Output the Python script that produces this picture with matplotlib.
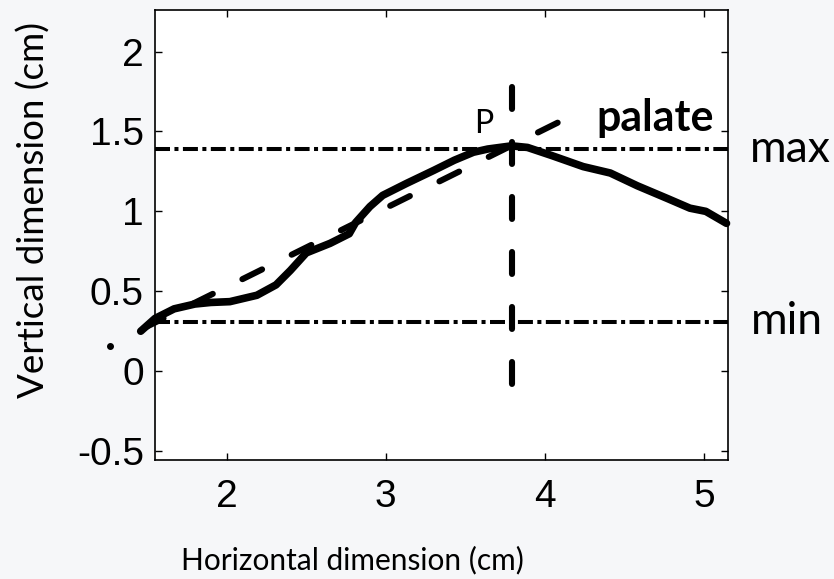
import matplotlib
matplotlib.use("Agg")
import matplotlib.pyplot as plt

plt.rcParams["lines.scale_dashes"] = False

# ---- data ----
curve_x = [1.46, 1.55, 1.67, 1.80, 1.90, 2.02, 2.19, 2.31, 2.40, 2.50, 2.65, 2.77,
           2.81, 2.90, 2.98, 3.13, 3.30, 3.43, 3.55, 3.64, 3.79, 3.89, 4.04, 4.24,
           4.41, 4.58, 4.77, 4.91, 5.01, 5.14]
curve_y = [0.25, 0.33, 0.39, 0.42, 0.43, 0.435, 0.475, 0.54, 0.63, 0.74, 0.80, 0.86,
           0.93, 1.03, 1.10, 1.175, 1.256, 1.32, 1.37, 1.39, 1.41, 1.40, 1.35, 1.28,
           1.24, 1.16, 1.08, 1.02, 1.00, 0.925]
fit_x = [1.44, 4.13]
fit_y = [0.25, 1.58]
p_x = 3.79
p_span = [1.78, -0.08]
y_min = 0.31
y_max = 1.39
dot_x = [1.27]
dot_y = [0.16]
x_ticks = [2, 3, 4, 5]
y_ticks = [-0.5, 0, 0.5, 1, 1.5, 2]
y_tick_labels = ["-0.5", "0", "0.5", "1", "1.5", "2"]

bg = "#f6f7f9"
fig = plt.figure(figsize=(8.34, 5.79), dpi=100, facecolor=bg)
ax = fig.add_axes([0.1859, 0.2055, 0.873 - 0.1859, 0.9827 - 0.2055])
ax.set_facecolor("white")
ax.set_xlim(1.55, 5.15)
ax.set_ylim(-0.556, 2.26)

dashdot = (0, (10.8, 3.2, 2.9, 3.2))
ax.plot([1.55, 5.15], [y_max, y_max], color="black", lw=2.9, linestyle=dashdot,
        dash_capstyle="butt", zorder=2)
ax.plot([1.55, 5.15], [y_min, y_min], color="black", lw=2.9, linestyle=dashdot,
        dash_capstyle="butt", zorder=2)

ax.plot(curve_x, curve_y, color="black", lw=5.5, solid_capstyle="round",
        solid_joinstyle="round", clip_on=False, zorder=3)

ax.plot(fit_x, fit_y, color="black", lw=4.4, clip_on=False, zorder=4,
        dash_capstyle="round", linestyle=(34.5, (15.8, 23.8)))
ax.plot([p_x, p_x], p_span, color="black", lw=4.4, clip_on=False, zorder=4,
        dash_capstyle="round", linestyle=(0, (15.8, 23.8)))

ax.plot(dot_x, dot_y, "o", color="black", ms=4, clip_on=False)

lab_font = "Lato"
ax.text(3.555, 1.49, "P", fontsize=23, family=lab_font, ha="left", va="baseline")
ax.text(4.69, 1.505, "palate", fontsize=31, family=lab_font, weight="bold",
        ha="center", va="baseline")
ax.text(1.038, y_max, "max", fontsize=32, family=lab_font, ha="left", va="center",
        transform=ax.get_yaxis_transform())
ax.text(1.04, y_min, "min", fontsize=32, family=lab_font, ha="left", va="center",
        transform=ax.get_yaxis_transform())

ax.set_xticks(x_ticks)
ax.set_xticklabels([str(t) for t in x_ticks], fontsize=28, family="Liberation Sans")
ax.set_yticks(y_ticks)
ax.set_yticklabels(y_tick_labels, fontsize=28, family="Liberation Sans")
ax.tick_params(direction="in", length=5, width=1, top=True, right=True)
ax.tick_params(axis="x", pad=14)
ax.tick_params(axis="y", pad=8)

for s in ax.spines.values():
    s.set_linewidth(1.2)

ax.set_xlabel("Horizontal dimension (cm)", fontsize=21.5, family=lab_font)
ax.xaxis.set_label_coords(0.344, -0.19)
ax.set_ylabel("Vertical dimension (cm)", fontsize=26.5, family=lab_font)
ax.yaxis.set_label_coords(-0.182, 0.556)

fig.savefig("out.png", dpi=100, facecolor=bg)
